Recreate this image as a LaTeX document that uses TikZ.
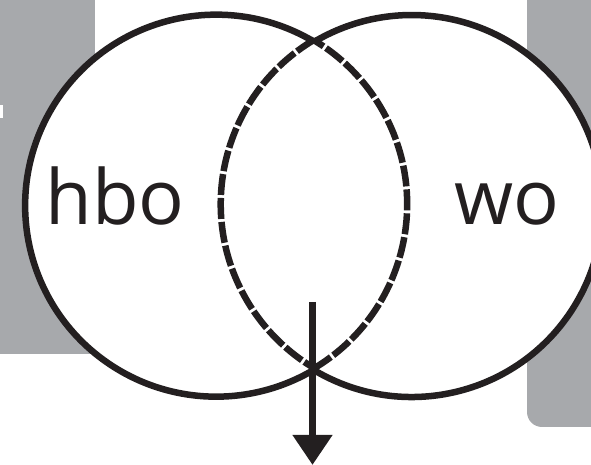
\documentclass[tikz,border=0pt]{standalone}
\usepackage{fontspec}
\setmainfont{Open Sans}
\usetikzlibrary{arrows.meta}
\definecolor{panel}{HTML}{A7A9AC}
\definecolor{ink}{HTML}{231F20}
\tikzset{
  ring/.style={draw=ink, line width=6.5pt},
  ringdash/.style={draw=ink, line width=6.5pt, dash pattern=on 21pt off 3pt},
  disc/.style={circle, fill=white, minimum size=382pt, inner sep=0pt, outer sep=0pt},
  label/.style={font=\fontsize{76}{76}\selectfont, text=ink, anchor=base, inner sep=0pt},
  downarrow/.style={draw=ink, line width=7.5pt, -{Triangle[width=38pt,length=30pt]}},
}
\begin{document}
\begin{tikzpicture}[x=1pt,y=1pt]
\useasboundingbox (0,0) rectangle (591,465);
% gray panels
\fill[panel] (0,111) rectangle (95,465);
\fill[white] (0,347) rectangle (2.5,360);
\fill[panel] (591,465) -- (527,465) -- (527,53) arc[start angle=180,end angle=270,radius=15] -- (591,38) -- cycle;
% circles
\node[disc] (L) at (215,260) {};
\node[disc] (R) at (410,260) {};
\draw[ring] (L.59.4) arc[start angle=59.4, end angle=300.6, radius=191];
\draw[ring] (R.-120.6) arc[start angle=-120.6, end angle=120.6, radius=191];
\draw[ringdash] (L.-59.4) arc[start angle=-59.4, end angle=59.4, radius=191];
\draw[ringdash] (R.120.6) arc[start angle=120.6, end angle=239.4, radius=191];
% labels
\node[label] (hbo) at (115,240) {hbo};
\node[label] (wo) at (507,240) {wo};
% arrow
\coordinate (astart) at (312.5,163);
\coordinate (aend) at (312.5,0);
\draw[downarrow] (astart) -- (aend);
\end{tikzpicture}
\end{document}
